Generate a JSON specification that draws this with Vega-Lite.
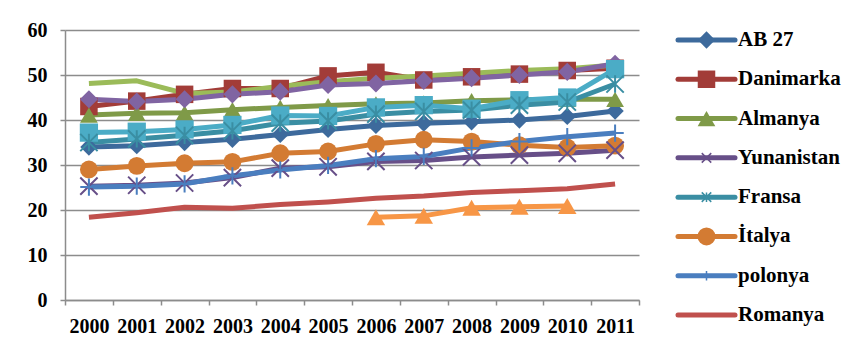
{
  "$schema": "https://vega.github.io/schema/vega-lite/v6.json",
  "autosize": {"type": "pad"},
  "padding": {"left": 27, "top": 20, "right": 5, "bottom": 5},
  "background": "white",
  "config": {
    "view": {"stroke": null},
    "font": "Liberation Serif",
    "axis": {"labelFont": "Liberation Serif", "labelFontSize": 20, "labelFontWeight": "bold", "labelColor": "#000000", "domainColor": "#8C8C8C", "domainWidth": 1.5, "tickColor": "#8C8C8C", "tickWidth": 1.5, "tickSize": 5, "gridColor": "#8C8C8C", "gridWidth": 1.5}
  },
  "datasets": {
    "main": [
      {"series": "AB 27", "year": "2000", "value": 34.0}, {"series": "AB 27", "year": "2001", "value": 34.3}, {"series": "AB 27", "year": "2002", "value": 35.0}, {"series": "AB 27", "year": "2003", "value": 35.7}, {"series": "AB 27", "year": "2004", "value": 36.8}, {"series": "AB 27", "year": "2005", "value": 37.9}, {"series": "AB 27", "year": "2006", "value": 38.8}, {"series": "AB 27", "year": "2007", "value": 39.3}, {"series": "AB 27", "year": "2008", "value": 39.6}, {"series": "AB 27", "year": "2009", "value": 40.0}, {"series": "AB 27", "year": "2010", "value": 40.8}, {"series": "AB 27", "year": "2011", "value": 42.0},
      {"series": "Danimarka", "year": "2000", "value": 43.0}, {"series": "Danimarka", "year": "2001", "value": 44.2}, {"series": "Danimarka", "year": "2002", "value": 45.7}, {"series": "Danimarka", "year": "2003", "value": 47.0}, {"series": "Danimarka", "year": "2004", "value": 47.0}, {"series": "Danimarka", "year": "2005", "value": 49.8}, {"series": "Danimarka", "year": "2006", "value": 50.6}, {"series": "Danimarka", "year": "2007", "value": 48.9}, {"series": "Danimarka", "year": "2008", "value": 49.6}, {"series": "Danimarka", "year": "2009", "value": 50.2}, {"series": "Danimarka", "year": "2010", "value": 51.0}, {"series": "Danimarka", "year": "2011", "value": 51.5},
      {"series": "Almanya", "year": "2000", "value": 41.1}, {"series": "Almanya", "year": "2001", "value": 41.5}, {"series": "Almanya", "year": "2002", "value": 41.6}, {"series": "Almanya", "year": "2003", "value": 42.3}, {"series": "Almanya", "year": "2004", "value": 42.8}, {"series": "Almanya", "year": "2005", "value": 43.2}, {"series": "Almanya", "year": "2006", "value": 43.6}, {"series": "Almanya", "year": "2007", "value": 43.8}, {"series": "Almanya", "year": "2008", "value": 44.3}, {"series": "Almanya", "year": "2009", "value": 44.5}, {"series": "Almanya", "year": "2010", "value": 44.6}, {"series": "Almanya", "year": "2011", "value": 44.6},
      {"series": "Yunanistan", "year": "2000", "value": 25.3}, {"series": "Yunanistan", "year": "2001", "value": 25.5}, {"series": "Yunanistan", "year": "2002", "value": 26.0}, {"series": "Yunanistan", "year": "2003", "value": 27.2}, {"series": "Yunanistan", "year": "2004", "value": 29.3}, {"series": "Yunanistan", "year": "2005", "value": 29.6}, {"series": "Yunanistan", "year": "2006", "value": 30.8}, {"series": "Yunanistan", "year": "2007", "value": 31.0}, {"series": "Yunanistan", "year": "2008", "value": 31.8}, {"series": "Yunanistan", "year": "2009", "value": 32.2}, {"series": "Yunanistan", "year": "2010", "value": 32.6}, {"series": "Yunanistan", "year": "2011", "value": 33.3},
      {"series": "Fransa", "year": "2000", "value": 35.0}, {"series": "Fransa", "year": "2001", "value": 35.8}, {"series": "Fransa", "year": "2002", "value": 36.6}, {"series": "Fransa", "year": "2003", "value": 37.6}, {"series": "Fransa", "year": "2004", "value": 39.3}, {"series": "Fransa", "year": "2005", "value": 39.8}, {"series": "Fransa", "year": "2006", "value": 41.3}, {"series": "Fransa", "year": "2007", "value": 41.9}, {"series": "Fransa", "year": "2008", "value": 42.2}, {"series": "Fransa", "year": "2009", "value": 43.3}, {"series": "Fransa", "year": "2010", "value": 44.0}, {"series": "Fransa", "year": "2011", "value": 48.0},
      {"series": "İtalya", "year": "2000", "value": 29.0}, {"series": "İtalya", "year": "2001", "value": 29.8}, {"series": "İtalya", "year": "2002", "value": 30.4}, {"series": "İtalya", "year": "2003", "value": 30.7}, {"series": "İtalya", "year": "2004", "value": 32.6}, {"series": "İtalya", "year": "2005", "value": 33.0}, {"series": "İtalya", "year": "2006", "value": 34.7}, {"series": "İtalya", "year": "2007", "value": 35.6}, {"series": "İtalya", "year": "2008", "value": 35.2}, {"series": "İtalya", "year": "2009", "value": 34.4}, {"series": "İtalya", "year": "2010", "value": 33.9}, {"series": "İtalya", "year": "2011", "value": 34.3},
      {"series": "polonya", "year": "2000", "value": 25.1}, {"series": "polonya", "year": "2001", "value": 25.3}, {"series": "polonya", "year": "2002", "value": 25.8}, {"series": "polonya", "year": "2003", "value": 27.6}, {"series": "polonya", "year": "2004", "value": 28.9}, {"series": "polonya", "year": "2005", "value": 29.9}, {"series": "polonya", "year": "2006", "value": 31.4}, {"series": "polonya", "year": "2007", "value": 31.9}, {"series": "polonya", "year": "2008", "value": 33.8}, {"series": "polonya", "year": "2009", "value": 35.2}, {"series": "polonya", "year": "2010", "value": 36.3}, {"series": "polonya", "year": "2011", "value": 37.1},
      {"series": "Romanya", "year": "2000", "value": 18.4}, {"series": "Romanya", "year": "2001", "value": 19.4}, {"series": "Romanya", "year": "2002", "value": 20.6}, {"series": "Romanya", "year": "2003", "value": 20.4}, {"series": "Romanya", "year": "2004", "value": 21.2}, {"series": "Romanya", "year": "2005", "value": 21.8}, {"series": "Romanya", "year": "2006", "value": 22.6}, {"series": "Romanya", "year": "2007", "value": 23.1}, {"series": "Romanya", "year": "2008", "value": 23.9}, {"series": "Romanya", "year": "2009", "value": 24.3}, {"series": "Romanya", "year": "2010", "value": 24.7}, {"series": "Romanya", "year": "2011", "value": 25.8},
      {"series": "Seri 9", "year": "2000", "value": 48.1}, {"series": "Seri 9", "year": "2001", "value": 48.7}, {"series": "Seri 9", "year": "2002", "value": 45.9}, {"series": "Seri 9", "year": "2003", "value": 46.2}, {"series": "Seri 9", "year": "2004", "value": 47.5}, {"series": "Seri 9", "year": "2005", "value": 48.5}, {"series": "Seri 9", "year": "2006", "value": 49.3}, {"series": "Seri 9", "year": "2007", "value": 49.8}, {"series": "Seri 9", "year": "2008", "value": 50.4}, {"series": "Seri 9", "year": "2009", "value": 51.0}, {"series": "Seri 9", "year": "2010", "value": 51.4}, {"series": "Seri 9", "year": "2011", "value": 52.2},
      {"series": "Seri 10", "year": "2000", "value": 44.6}, {"series": "Seri 10", "year": "2001", "value": 44.1}, {"series": "Seri 10", "year": "2002", "value": 44.6}, {"series": "Seri 10", "year": "2003", "value": 45.7}, {"series": "Seri 10", "year": "2004", "value": 46.3}, {"series": "Seri 10", "year": "2005", "value": 47.8}, {"series": "Seri 10", "year": "2006", "value": 48.1}, {"series": "Seri 10", "year": "2007", "value": 48.7}, {"series": "Seri 10", "year": "2008", "value": 49.3}, {"series": "Seri 10", "year": "2009", "value": 50.0}, {"series": "Seri 10", "year": "2010", "value": 50.7}, {"series": "Seri 10", "year": "2011", "value": 52.5},
      {"series": "Seri 11", "year": "2000", "value": 37.2}, {"series": "Seri 11", "year": "2001", "value": 37.4}, {"series": "Seri 11", "year": "2002", "value": 37.9}, {"series": "Seri 11", "year": "2003", "value": 38.9}, {"series": "Seri 11", "year": "2004", "value": 41.0}, {"series": "Seri 11", "year": "2005", "value": 40.9}, {"series": "Seri 11", "year": "2006", "value": 42.8}, {"series": "Seri 11", "year": "2007", "value": 43.3}, {"series": "Seri 11", "year": "2008", "value": 42.5}, {"series": "Seri 11", "year": "2009", "value": 44.4}, {"series": "Seri 11", "year": "2010", "value": 45.0}, {"series": "Seri 11", "year": "2011", "value": 51.3},
      {"series": "Seri 12", "year": "2006", "value": 18.4}, {"series": "Seri 12", "year": "2007", "value": 18.7}, {"series": "Seri 12", "year": "2008", "value": 20.5}, {"series": "Seri 12", "year": "2009", "value": 20.7}, {"series": "Seri 12", "year": "2010", "value": 20.9}
    ],
    "legend": [
      {"series": "AB 27"}, {"series": "Danimarka"}, {"series": "Almanya"}, {"series": "Yunanistan"}, {"series": "Fransa"}, {"series": "İtalya"}, {"series": "polonya"}, {"series": "Romanya"}
    ]
  },
  "spacing": 39,
  "bounds": "flush",
  "hconcat": [
    {
      "width": 574,
      "height": 270,
      "data": {"name": "main"},
      "encoding": {
        "x": {"field": "year", "type": "ordinal", "scale": {"type": "band", "paddingInner": 0, "paddingOuter": 0}, "axis": {"title": null, "labelAngle": 0, "tickBand": "extent", "labelPadding": 11}},
        "y": {"field": "value", "type": "quantitative", "scale": {"domain": [0, 60], "nice": false}, "axis": {"title": null, "values": [0, 10, 20, 30, 40, 50, 60], "grid": true, "labelPadding": 13}},
        "color": {"field": "series", "type": "nominal", "legend": null, "scale": {"domain": ["AB 27", "Danimarka", "Almanya", "Yunanistan", "Fransa", "İtalya", "polonya", "Romanya", "Seri 9", "Seri 10", "Seri 11", "Seri 12"], "range": ["#3D6A9C", "#A23C38", "#7F9A48", "#674F88", "#3A8EA3", "#D37B33", "#4A7EBF", "#C0504D", "#9BBB59", "#8064A2", "#4BACC6", "#F79646"]}}
      },
      "layer": [
        {"mark": {"type": "line", "strokeWidth": 5, "strokeJoin": "round"}},
        {
          "transform": [{"filter": {"field": "series", "oneOf": ["AB 27", "Danimarka", "Almanya", "İtalya", "Seri 10", "Seri 11", "Seri 12"]}}],
          "mark": {"type": "point", "filled": true, "opacity": 1},
          "encoding": {
            "shape": {"field": "series", "type": "nominal", "legend": null, "scale": {"domain": ["AB 27", "Danimarka", "Almanya", "Yunanistan", "Fransa", "İtalya", "polonya", "Romanya", "Seri 9", "Seri 10", "Seri 11", "Seri 12"], "range": ["diamond", "square", "triangle-up", "M-1,-1L1,1M-1,1L1,-1", "M-1,-1L1,1M-1,1L1,-1M0,-1L0,1", "circle", "M-1,0L1,0M0,-1L0,1", "circle", "circle", "diamond", "square", "triangle-up"]}},
            "size": {"field": "series", "type": "nominal", "legend": null, "scale": {"domain": ["AB 27", "Danimarka", "Almanya", "İtalya", "Seri 10", "Seri 11", "Seri 12"], "range": [300, 340, 420, 400, 340, 400, 420]}}
          }
        },
        {
          "transform": [{"filter": {"field": "series", "oneOf": ["Yunanistan", "Fransa", "polonya"]}}],
          "mark": {"type": "point", "filled": false, "opacity": 1, "strokeWidth": 2, "size": 300},
          "encoding": {
            "shape": {"field": "series", "type": "nominal", "legend": null}
          }
        }
      ]
    },
    {
      "width": 57,
      "height": 295,
      "data": {"name": "legend"},
      "encoding": {
        "y": {"field": "series", "type": "nominal", "scale": {"type": "point", "padding": 0.254, "domain": ["AB 27", "Danimarka", "Almanya", "Yunanistan", "Fransa", "İtalya", "polonya", "Romanya"]}, "axis": null},
        "color": {"field": "series", "type": "nominal", "legend": null, "scale": {"domain": ["AB 27", "Danimarka", "Almanya", "Yunanistan", "Fransa", "İtalya", "polonya", "Romanya"], "range": ["#3D6A9C", "#A23C38", "#7F9A48", "#674F88", "#3A8EA3", "#D37B33", "#4A7EBF", "#C0504D"]}}
      },
      "layer": [
        {
          "mark": {"type": "rule", "strokeWidth": 5, "strokeCap": "round"},
          "encoding": {
            "x": {"datum": 0, "type": "quantitative", "scale": {"domain": [0, 1]}, "axis": null},
            "x2": {"datum": 1}
          }
        },
        {
          "transform": [{"filter": {"field": "series", "oneOf": ["AB 27", "Danimarka", "Almanya", "İtalya"]}}],
          "mark": {"type": "point", "filled": true, "opacity": 1},
          "encoding": {
            "x": {"datum": 0.5, "type": "quantitative"},
            "shape": {"field": "series", "type": "nominal", "legend": null, "scale": {"domain": ["AB 27", "Danimarka", "Almanya", "Yunanistan", "Fransa", "İtalya", "polonya", "Romanya"], "range": ["diamond", "square", "triangle-up", "M-1,-1L1,1M-1,1L1,-1", "M-1,-1L1,1M-1,1L1,-1M0,-1L0,1", "circle", "M-1,0L1,0M0,-1L0,1", "circle"]}},
            "size": {"field": "series", "type": "nominal", "legend": null, "scale": {"domain": ["AB 27", "Danimarka", "Almanya", "İtalya"], "range": [80, 144, 144, 144]}}
          }
        },
        {
          "transform": [{"filter": {"field": "series", "oneOf": ["Yunanistan", "Fransa", "polonya"]}}],
          "mark": {"type": "point", "filled": false, "opacity": 1, "strokeWidth": 1.5, "size": 90},
          "encoding": {
            "x": {"datum": 0.5, "type": "quantitative"},
            "shape": {"field": "series", "type": "nominal", "legend": null}
          }
        },
        {
          "mark": {"type": "text", "align": "left", "baseline": "middle", "dx": 3, "fontSize": 21, "fontWeight": "bold", "font": "Liberation Serif", "color": "#000000"},
          "encoding": {
            "x": {"datum": 1, "type": "quantitative"},
            "text": {"field": "series"},
            "color": {"value": "#000000"}
          }
        }
      ]
    }
  ]
}
